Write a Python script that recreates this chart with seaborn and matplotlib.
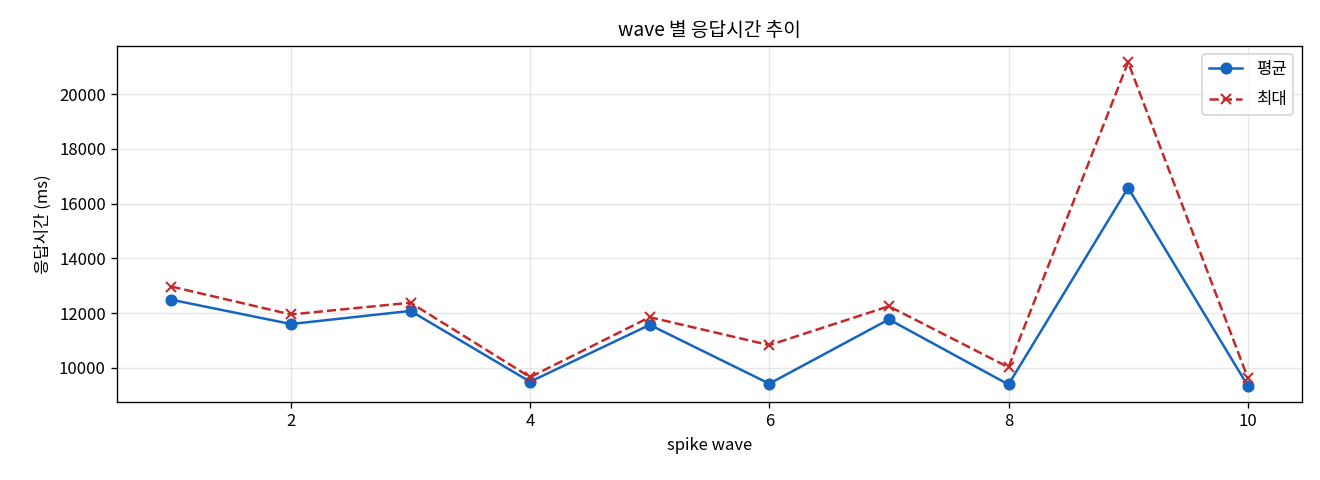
import matplotlib
matplotlib.use("Agg")
import matplotlib.pyplot as plt
import seaborn as sns
import pandas as pd

plt.rcParams['font.family'] = ['Noto Sans CJK KR', 'DejaVu Sans']
plt.rcParams['axes.unicode_minus'] = False

# wave 별 응답시간 (ms)
waves = [1, 2, 3, 4, 5, 6, 7, 8, 9, 10]
avg_ms = [12490, 11600, 12080, 9490, 11570, 9420, 11770, 9390, 16580, 9350]
max_ms = [12970, 11950, 12380, 9660, 11850, 10830, 12250, 10020, 21170, 9640]

df = pd.DataFrame({'wave': waves, 'avg': avg_ms, 'max': max_ms})

fig, ax = plt.subplots(figsize=(11, 4), dpi=120)
sns.lineplot(data=df, x='wave', y='avg', marker='o', color='#1565C0',
             markersize=6.5, markeredgecolor='#1565C0', linewidth=1.5,
             label='평균', ax=ax)
sns.lineplot(data=df, x='wave', y='max', marker='x', color='#C62828',
             markersize=6.5, markeredgecolor='#C62828', markeredgewidth=1.2,
             linewidth=1.5, dashes=(3.7, 1.6), label='최대', ax=ax)

ax.set_title('wave 별 응답시간 추이', fontsize=11.5)
ax.set_xlabel('spike wave', fontsize=10)
ax.set_ylabel('응답시간 (ms)', fontsize=10)
ax.grid(True, alpha=0.3)
ax.legend(loc='upper right', labelspacing=0.8)

plt.subplots_adjust(left=0.089, right=0.986, top=0.904, bottom=0.163)
plt.savefig('out.png', dpi=120)
